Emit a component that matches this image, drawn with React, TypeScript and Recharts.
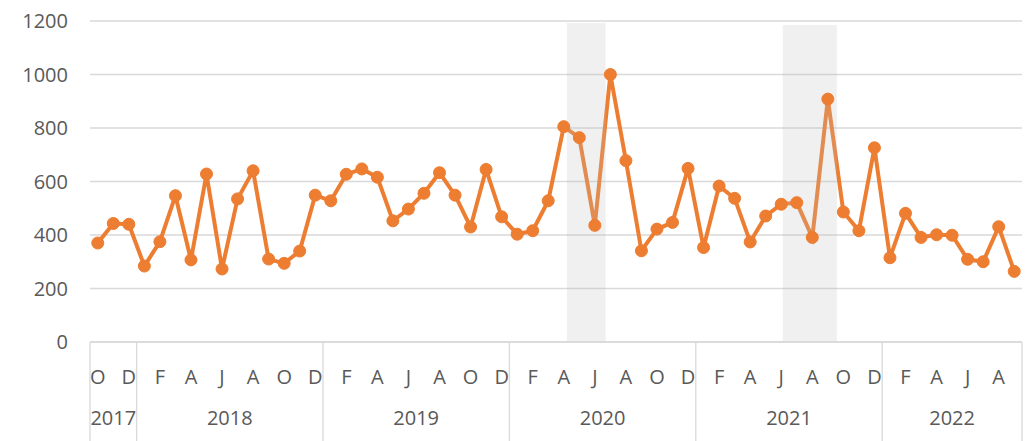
import React from 'react';
import { ComposedChart, Line, XAxis, YAxis, CartesianGrid, ReferenceArea } from 'recharts';

const years = [2017, 2018, 2019, 2020, 2021, 2022];
const monthsInYear = [3, 12, 12, 12, 12, 9];
const firstMonth = 10;
const monthInitials = ['J', 'F', 'M', 'A', 'M', 'J', 'J', 'A', 'S', 'O', 'N', 'D'];
const values = [
  370, 443, 440,
  284, 375, 547, 307, 628, 273, 535, 640, 310, 294, 340, 549,
  528, 627, 647, 616, 453, 497, 556, 633, 549, 430, 645, 468,
  403, 416, 528, 805, 764, 436, 1000, 678, 341, 422, 447, 649,
  353, 583, 537, 374, 471, 515, 521, 391, 908, 486, 416, 726,
  315, 481, 391, 401, 399, 309, 300, 431, 264,
];
const yTicks = [0, 200, 400, 600, 800, 1000, 1200];
// shaded periods: first and last month covered, plus the fraction of a month the band spills over
const shadedPeriods = [
  { start: '2020-5', end: '2020-6', spillBefore: 0.3, spillAfter: 0.2, top: 1192 },
  { start: '2021-7', end: '2021-9', spillBefore: 0.4, spillAfter: 0.08, top: 1185 },
];

type Row = { key: string; year: number; month: number; value: number; first: boolean; count: number };
const data: Row[] = [];
{
  let k = 0;
  years.forEach((yr, yi) => {
    const start = yi === 0 ? firstMonth : 1;
    for (let m = start; m < start + monthsInYear[yi]; m++) {
      data.push({
        key: `${yr}-${m}`,
        year: yr,
        month: m,
        value: values[k],
        first: m === start,
        count: monthsInYear[yi],
      });
      k++;
    }
  });
}
const keyIndex = (key: string) => data.findIndex((d) => d.key === key);

const FONT = '"Open Sans", sans-serif';
const TEXT = '#595959';
const GRID = '#D9D9D9';
const ORANGE = '#ED7D31';
const MONTH_H = 50;
const YEAR_H = 49;

const MonthTick = (props: any) => {
  const { x, y, index, payload } = props;
  const row = data[index];
  if (!row) return null;
  const half = payload && typeof payload.offset === 'number' && payload.offset > 0 ? payload.offset : 0;
  const start = x - half;
  return (
    <g>
      {row.month % 2 === 0 && (
        <text x={x} y={y + 42} textAnchor="middle" fill={TEXT} fontSize={20} fontFamily={FONT}>
          {monthInitials[row.month - 1]}
        </text>
      )}
      {row.first && (
        <>
          <line x1={start} x2={start} y1={y} y2={y + MONTH_H + YEAR_H} stroke={GRID} strokeWidth={1.3} />
          <text
            x={start + row.count * half}
            y={y + MONTH_H + 33}
            textAnchor="middle"
            fill={TEXT}
            fontSize={20}
            fontFamily={FONT}
          >
            {row.year}
          </text>
        </>
      )}
      {index === data.length - 1 && (
        <line x1={x + half} x2={x + half} y1={y} y2={y + MONTH_H + YEAR_H} stroke={GRID} strokeWidth={1.3} />
      )}
    </g>
  );
};

const makeShape = (p: (typeof shadedPeriods)[number]) => (props: any) => {
  const { x, y, width, height } = props;
  const n = keyIndex(p.end) - keyIndex(p.start) + 1;
  const bw = width / n;
  return (
    <rect
      x={x - p.spillBefore * bw}
      y={y}
      width={width + (p.spillBefore + p.spillAfter) * bw}
      height={height}
      fill="#BFBFBF"
      fillOpacity={0.23}
      stroke="none"
    />
  );
};

export default function App() {
  return (
    <div style={{ position: 'absolute', left: 0, top: 0, background: '#fff' }}>
      <ComposedChart
        width={1033}
        height={441}
        data={data}
        margin={{ top: 21, right: 11, bottom: 0, left: 0 }}
      >
        <CartesianGrid vertical={false} stroke={GRID} strokeWidth={1.3} />
        <XAxis
          dataKey="key"
          scale="band"
          interval={0}
          tickLine={false}
          tickSize={0}
          tickMargin={0}
          axisLine={{ stroke: GRID, strokeWidth: 1.3 }}
          height={MONTH_H + YEAR_H}
          tick={<MonthTick />}
        />
        <YAxis
          domain={[0, 1200]}
          ticks={yTicks}
          width={90}
          tickLine={false}
          axisLine={false}
          tickSize={0}
          tickMargin={22}
          tick={{ fill: TEXT, fontSize: 20, fontFamily: FONT }}
        />
        <Line
          dataKey="value"
          stroke={ORANGE}
          strokeWidth={4}
          dot={{ r: 6, fill: ORANGE, stroke: ORANGE, strokeWidth: 1 }}
          activeDot={false}
          isAnimationActive={false}
        />
        {shadedPeriods.map((p, i) => (
          <ReferenceArea
            key={i}
            x1={p.start}
            x2={p.end}
            y1={0}
            y2={p.top}
            ifOverflow="visible"
            zIndex={450}
            shape={makeShape(p)}
          />
        ))}
      </ComposedChart>
    </div>
  );
}
